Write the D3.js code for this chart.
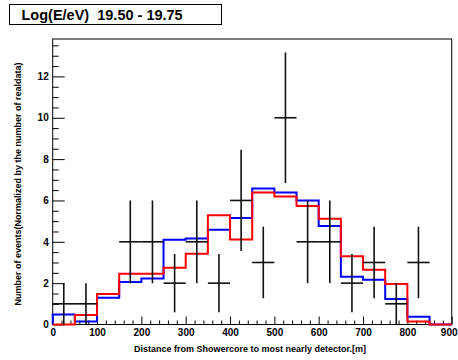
<!DOCTYPE html>
<html>
<head>
<meta charset="utf-8">
<script src="https://cdn.jsdelivr.net/npm/d3@7"></script>
<style>
  body { margin: 0; background: #fff; }
  svg { display: block; }
  text { font-family: "Liberation Sans", Arial, Helvetica, sans-serif; font-weight: bold; fill: #000; }
</style>
</head>
<body>
<svg id="chart" width="458" height="360"></svg>
<script>
// Bin lower edges (m); every bin is 50 m wide
const binStarts = [0, 50, 100, 150, 200, 250, 300, 350, 400, 450, 500, 550, 600, 650, 700, 750, 800, 850];
const binWidth = 50;

// Real data: counts per bin and their statistical errors
const dataCounts = [1, 1, 0, 4, 4, 2, 4, 2, 6, 3, 10, 4, 4, 2, 3, 1, 3, 0];
const dataErrors = [1, 1, 0, 2, 2, 1.41, 2, 1.41, 2.45, 1.73, 3.16, 2, 2, 1.41, 1.73, 1, 1.73, 0];

// Simulations, normalized to the number of real events
const blueValues = [0.48, 0.14, 1.30, 2.05, 2.23, 4.10, 4.16, 4.58, 5.15, 6.58, 6.38, 6.00, 4.76, 2.31, 2.17, 1.23, 0.38, 0];
const redValues  = [0, 0.46, 1.48, 2.46, 2.46, 2.75, 3.42, 5.29, 4.11, 6.38, 6.19, 5.73, 5.12, 3.30, 2.65, 1.96, 0.14, 0];

// Axis ticks
const xTicks = [0, 100, 200, 300, 400, 500, 600, 700, 800, 900];
const yTicks = [0, 2, 4, 6, 8, 10, 12];

const titleText = "Log(E/eV)  19.50 - 19.75";
const xTitle = "Distance from Showercore to most nearly detector.[m]";
const yTitle = "Number of events(Normalized by the number of realdata)";

const svg = d3.select("#chart");
const W = 458;
const frame = { left: 52.7, right: 451.7, top: 39, bottom: 324.5 };

const x = d3.scaleLinear().domain([0, 900]).range([frame.left, frame.right]);
const y = d3.scaleLinear().domain([0, 13.81]).range([frame.bottom, frame.top]);

// Title box
svg.append("rect")
  .attr("x", 9.5).attr("y", 4.5).attr("width", 212).attr("height", 20)
  .attr("fill", "#fff").attr("stroke", "#000").attr("stroke-width", 1);
svg.append("text")
  .attr("x", 21.5).attr("y", 19.6)
  .style("font-size", "14.5px").style("white-space", "pre")
  .text(titleText);

// Frame
svg.append("rect")
  .attr("x", frame.left).attr("y", frame.top)
  .attr("width", frame.right - frame.left).attr("height", frame.bottom - frame.top)
  .attr("fill", "none").attr("stroke", "#000").attr("stroke-width", 1);

// Axes: minor ticks first, then major ticks with labels
const xMinor = d3.range(0, 901, 20).filter(v => v % 100 !== 0);
svg.append("g").attr("transform", `translate(0,${frame.bottom})`)
  .call(d3.axisBottom(x).tickValues(xMinor).tickSize(-4).tickSizeOuter(0).tickFormat(""))
  .call(g => g.select(".domain").remove());
svg.append("g").attr("transform", `translate(0,${frame.bottom})`)
  .call(d3.axisBottom(x).tickValues(xTicks).tickSize(-8).tickSizeOuter(0).tickPadding(4).tickFormat(d3.format("d")))
  .call(g => g.select(".domain").remove())
  .call(g => g.selectAll("text").style("font-size", "10px").style("font-family", null))
  // keep the last label inside the canvas
  .call(g => g.selectAll(".tick").filter(d => d === 900).select("text")
    .attr("text-anchor", "end").attr("x", W - 1 - x(900)));

const yMinor = d3.range(0, 13.8, 0.5).filter(v => v % 2 !== 0);
svg.append("g").attr("transform", `translate(${frame.left},0)`)
  .call(d3.axisLeft(y).tickValues(yMinor).tickSize(-6).tickSizeOuter(0).tickFormat(""))
  .call(g => g.select(".domain").remove());
svg.append("g").attr("transform", `translate(${frame.left},0)`)
  .call(d3.axisLeft(y).tickValues(yTicks).tickSize(-12).tickSizeOuter(0).tickPadding(4).tickFormat(d3.format("d")))
  .call(g => g.select(".domain").remove())
  .call(g => g.selectAll("text").style("font-size", "10px").style("font-family", null));

svg.selectAll(".tick line").attr("stroke", "#000");

// Step outlines of the simulated histograms
function stepPoints(values) {
  const pts = [[0, 0]];
  values.forEach((v, i) => {
    pts.push([binStarts[i], v]);
    pts.push([binStarts[i] + binWidth, v]);
  });
  pts.push([900, 0]);
  return pts;
}
const step = d3.line().x(d => x(d[0])).y(d => y(d[1]));

svg.append("path").attr("d", step(stepPoints(blueValues)))
  .attr("fill", "none").attr("stroke", "#0000ff").attr("stroke-width", 2);
svg.append("path").attr("d", step(stepPoints(redValues)))
  .attr("fill", "none").attr("stroke", "#ff0000").attr("stroke-width", 2);

// Real data with error bars (empty bins are not drawn)
const pts = binStarts.map((lo, i) => ({ lo, v: dataCounts[i], e: dataErrors[i] })).filter(d => d.v > 0);
const gData = svg.append("g").attr("stroke", "#111").attr("stroke-width", 1.6);
gData.selectAll("line.h").data(pts).join("line").attr("class", "h")
  .attr("x1", d => x(d.lo)).attr("x2", d => x(d.lo + binWidth))
  .attr("y1", d => y(d.v)).attr("y2", d => y(d.v));
gData.selectAll("line.v").data(pts).join("line").attr("class", "v")
  .attr("x1", d => x(d.lo + binWidth / 2)).attr("x2", d => x(d.lo + binWidth / 2))
  .attr("y1", d => y(d.v - d.e)).attr("y2", d => y(d.v + d.e));

// Axis titles
svg.append("text")
  .attr("x", 250).attr("y", 352)
  .attr("text-anchor", "middle")
  .style("font-size", "9px")
  .text(xTitle);
svg.append("text")
  .attr("transform", "translate(20.5,184) rotate(-90)")
  .attr("text-anchor", "middle")
  .style("font-size", "9px")
  .text(yTitle);
</script>
</body>
</html>
